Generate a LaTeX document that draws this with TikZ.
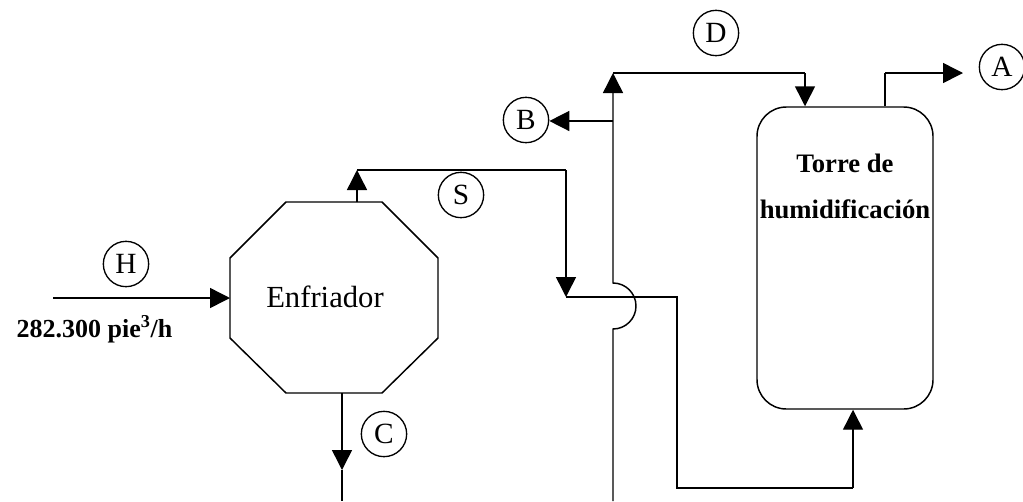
\documentclass[tikz,border=0pt]{standalone}
\usepackage{fontspec}
\setmainfont{Liberation Serif}
\usetikzlibrary{arrows.meta}

\begin{document}
\begin{tikzpicture}[
    x=0.75pt, y=-0.75pt,
    pipe/.style={line width=1.1pt},
    flow/.style={pipe, -{Triangle[length=15pt, width=15pt]}},
    stream/.style={draw, circle, line width=1pt, minimum size=34pt, inner sep=0pt, font=\fontsize{22}{24}\selectfont},
    tower/.style={draw, line width=1.1pt, rounded corners=22pt, minimum width=132pt, minimum height=226.5pt},
    bigtxt/.style={font=\fontsize{23}{26}\selectfont},
    boldtxt/.style={font=\bfseries\fontsize{20}{34.5}\selectfont, align=center}
]
\useasboundingbox (0,0) rectangle (1023,501);

\draw[pipe] (230,258) -- (286,202) -- (382,202) -- (438,258) -- (438,338) -- (382,393) -- (286,393) -- (230,338) -- cycle;
\node[bigtxt] (enfriador) at (325,297) {Enfriador};
\node[tower] (torre) at (845,258) {};
\node[boldtxt] (torrelbl) at (845,186) {Torre de\\humidificación};

\node[stream] (H) at (126,264) {H};
\node[stream] (S) at (461,195) {S};
\node[stream] (C) at (384,434) {C};
\node[stream] (B) at (526,120) {B};
\node[stream] (D) at (716,33) {D};
\node[stream] (A) at (1002,67) {A};
\node[anchor=west, font=\bfseries\fontsize{19.5}{22}\selectfont] (caudal) at (12,329) {282.300 pie\textsuperscript{3}/h};

\coordinate (h-in) at (53,298);
\coordinate (enf-w) at (230,298);
\coordinate (enf-n) at (357,202);
\coordinate (enf-s) at (342,393);
\coordinate (s-up) at (357,170);
\coordinate (s-end) at (566,170);
\coordinate (s-drop) at (566,297);
\coordinate (mix-r) at (677,297);
\coordinate (mix-bot) at (677,488);
\coordinate (tor-bot) at (853,488);
\coordinate (c-arr) at (342,470);
\coordinate (c-end) at (342,501);
\coordinate (r-bot) at (613,501);
\coordinate (jump-lo) at (613,329);
\coordinate (r-top) at (613,73);
\coordinate (b-split) at (613,121);
\coordinate (d-end) at (805,73);
\coordinate (a-up) at (885,73);
\coordinate (a-tip) at (963,73);

\draw[flow] (h-in) -- (enf-w);
\draw[flow] (enf-n) -- (s-up);
\draw[pipe] (s-up) -- (s-end);
\draw[flow] (s-end) -- (s-drop);
\draw[pipe] (s-drop) -- (mix-r) -- (mix-bot) -- (tor-bot);
\draw[flow] (tor-bot) -- (tor-bot |- torre.south);
\draw[flow] (enf-s) -- (c-arr);
\draw[pipe] (c-arr) -- (c-end);
\draw[flow] (r-bot) -- (jump-lo) arc[start angle=90, end angle=-90, radius=23] -- (r-top);
\draw[pipe] (r-top) -- (d-end);
\draw[flow] (d-end) -- (d-end |- torre.north);
\draw[flow] (b-split) -- (b-split -| B.east);
\draw[pipe] (a-up |- torre.north) -- (a-up);
\draw[flow] (a-up) -- (a-tip);
\end{tikzpicture}
\end{document}
